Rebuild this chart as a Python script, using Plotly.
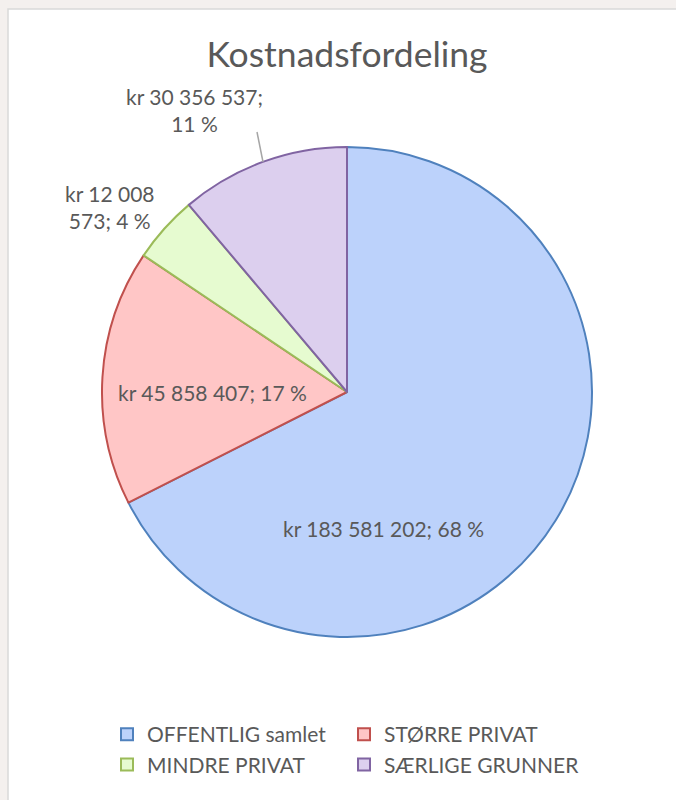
import textwrap

import plotly.graph_objects as go

# data
categories = ["OFFENTLIG samlet", "STØRRE PRIVAT", "MINDRE PRIVAT", "SÆRLIGE GRUNNER"]
costs_kr = [183581202, 45858407, 12008573, 30356537]

# styling
fill_colors = ["#bcd2fb", "#ffc6c6", "#e6fbd0", "#dccfee"]
line_colors = ["#4f81bd", "#c0504d", "#9bbb59", "#8064a2"]
text_color = "#595959"
font_family = "Lato, 'Open Sans', sans-serif"

width_standard = 676
height_standard = 800
# side margins keep the horizontal legend at two entries per row
m_l, m_r, m_t, m_b = 84, 84, 0, 0

# label placement in pixels (centre of text block) and wrap width
label_pos = [(383, 528), (212, 392), (110, 207), (194, 110)]
label_wrap = [None, None, 9, 14]


def px(x, y):
    # figure pixels -> paper coordinates (relative to plot area)
    w = width_standard - m_l - m_r
    h = height_standard - m_t - m_b
    return (x - m_l) / w, 1 - (y - m_t) / h


def label_texts():
    total = sum(costs_kr)
    out = []
    for v, w in zip(costs_kr, label_wrap):
        pct = round(v / total * 100)
        t = f"kr {v:,}".replace(",", " ") + f"; {pct} %"
        if w:
            t = "<br>".join(textwrap.wrap(t, w))
        out.append(t)
    return out


fig = go.Figure()
x0, y1 = px(102, 147)
x1, y0 = px(592, 637)
fig.add_trace(go.Pie(
    labels=categories,
    values=costs_kr,
    sort=False,
    direction="clockwise",
    rotation=0,
    textinfo="none",
    hoverinfo="label+value+percent",
    marker=dict(colors=fill_colors, line=dict(color=line_colors, width=2)),
    domain=dict(x=[x0, x1], y=[y0, y1]),
))

for (lx, ly), txt in zip(label_pos, label_texts()):
    ax, ay = px(lx, ly)
    fig.add_annotation(
        x=ax, y=ay, xref="paper", yref="paper",
        xanchor="center", yanchor="middle",
        text=txt, showarrow=False, align="center",
        font=dict(size=21, color=text_color, family=font_family),
    )

# leader line for the small purple label
lx0, ly0 = px(257, 132)
lx1, ly1 = px(263, 162)
fig.add_shape(type="line", xref="paper", yref="paper",
              x0=lx0, y0=ly0, x1=lx1, y1=ly1,
              line=dict(color="#a6a6a6", width=1.5))

# white chart card on a light page background
cx0, cy1 = px(8, 9)
cx1, cy0 = px(690, 810)
fig.add_shape(type="rect", xref="paper", yref="paper", layer="below",
              x0=cx0, y0=cy0, x1=cx1, y1=cy1,
              fillcolor="#ffffff", line=dict(color="#d9d9d9", width=1.5))

lgx, lgy = px(107, 714)
fig.update_layout(
    width=width_standard,
    height=height_standard,
    margin=dict(l=m_l, r=m_r, t=m_t, b=m_b),
    paper_bgcolor="#f4f0ee",
    plot_bgcolor="#ffffff",
    title=dict(text="Kostnadsfordeling",
               x=347 / width_standard, y=1 - 55 / height_standard,
               xanchor="center", yanchor="middle",
               font=dict(size=35.5, color=text_color, family=font_family)),
    showlegend=True,
    legend=dict(
        orientation="h",
        x=lgx, y=lgy, xanchor="left", yanchor="top",
        entrywidth=192, entrywidthmode="pixels",
        font=dict(size=21, color=text_color, family=font_family),
        bgcolor="rgba(0,0,0,0)",
    ),
)

fig.write_html(
    "out.html",
    config={"displayModeBar": False},
    post_script="document.body.style.margin='0';document.body.style.overflow='hidden';",
)
